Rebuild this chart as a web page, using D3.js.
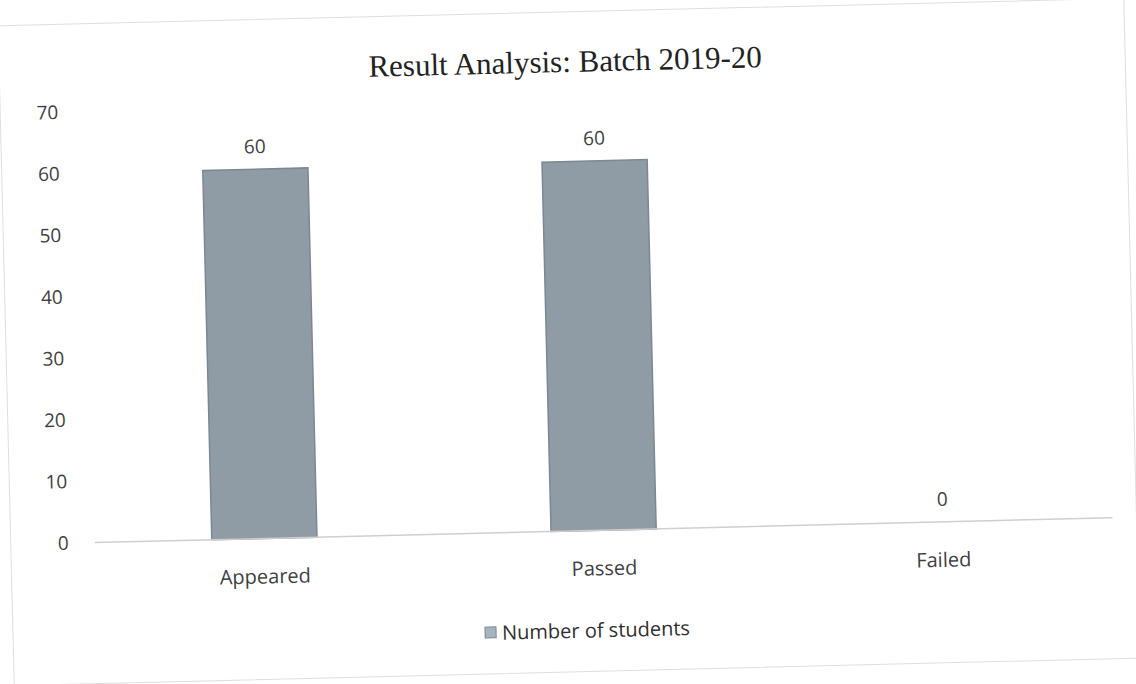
<!DOCTYPE html>
<html>
<head>
<meta charset="utf-8">
<script src="https://cdn.jsdelivr.net/npm/d3@7"></script>
<style>
  body { margin: 0; background: #fff; }
  text { font-family: "Open Sans", sans-serif; fill: #3f3f3f; }
</style>
</head>
<body>
<script>
const categories = ['Appeared', 'Passed', 'Failed'];
const students = [60, 60, 0];
const yTicks = [0, 10, 20, 30, 40, 50, 60, 70];
const seriesName = 'Number of students';
const title = 'Result Analysis: Batch 2019-20';

const width = 1136;
const height = 684;
const margin = { top: 100, right: 28, bottom: 153, left: 90 };

const svg = d3.select('body')
  .append('svg')
  .attr('width', width)
  .attr('height', height);

// the scanned page is a little tilted, so tilt the whole chart the same way
const chart = svg.append('g')
  .attr('transform', `rotate(-1.4, ${width / 2}, ${height / 2})`);

chart.append('rect')
  .attr('x', 6)
  .attr('y', 12)
  .attr('width', 1126)
  .attr('height', 660)
  .attr('fill', 'none')
  .attr('stroke', '#dedede');

const x = d3.scaleBand()
  .domain(categories)
  .range([margin.left, width - margin.right])
  .paddingInner(0.69)
  .paddingOuter(0.345);

const y = d3.scaleLinear()
  .domain([0, 70])
  .range([height - margin.bottom, margin.top]);

// Y axis labels only
chart.append('g')
  .attr('transform', `translate(${margin.left - 26},0)`)
  .call(d3.axisLeft(y).tickValues(yTicks).tickSize(0).tickPadding(0))
  .call(g => g.select('.domain').remove())
  .call(g => g.selectAll('text').attr('font-size', 19).attr('fill', '#444'));

// Bars
chart.selectAll('rect.bar')
  .data(categories)
  .enter()
  .append('rect')
  .attr('class', 'bar')
  .attr('x', d => x(d))
  .attr('width', x.bandwidth())
  .attr('y', (d, i) => y(students[i]))
  .attr('height', (d, i) => y(0) - y(students[i]))
  .attr('fill', '#8f9ca6')
  .attr('stroke', '#7b8892')
  .attr('stroke-width', 1.5);

// Baseline
chart.append('line')
  .attr('x1', margin.left)
  .attr('x2', width - margin.right)
  .attr('y1', y(0))
  .attr('y2', y(0))
  .attr('stroke', '#cfcfcf')
  .attr('stroke-width', 1.5);

// Value labels
chart.selectAll('text.value')
  .data(categories)
  .enter()
  .append('text')
  .attr('class', 'value')
  .attr('x', d => x(d) + x.bandwidth() / 2)
  .attr('y', (d, i) => y(students[i]) - 16)
  .attr('text-anchor', 'middle')
  .attr('font-size', 19)
  .text((d, i) => students[i]);

// Category labels
chart.selectAll('text.cat')
  .data(categories)
  .enter()
  .append('text')
  .attr('class', 'cat')
  .attr('x', d => x(d) + x.bandwidth() / 2)
  .attr('y', y(0) + 45)
  .attr('text-anchor', 'middle')
  .attr('font-size', 20)
  .text(d => d);

// Title
chart.append('text')
  .attr('x', 572)
  .attr('y', 72)
  .attr('text-anchor', 'middle')
  .attr('font-size', 31)
  .style('font-family', '"Liberation Serif", serif')
  .style('fill', '#222')
  .text(title);

// Legend
const legend = chart.append('g')
  .attr('transform', `translate(478, 631)`);

legend.append('rect')
  .attr('x', 0)
  .attr('y', -6)
  .attr('width', 11)
  .attr('height', 11)
  .attr('fill', '#a7b3bd')
  .attr('stroke', '#7b8892');

legend.append('text')
  .attr('x', 17)
  .attr('dy', '0.35em')
  .attr('font-size', 20)
  .style('fill', '#2f2f2f')
  .text(seriesName);
</script>
</body>
</html>
